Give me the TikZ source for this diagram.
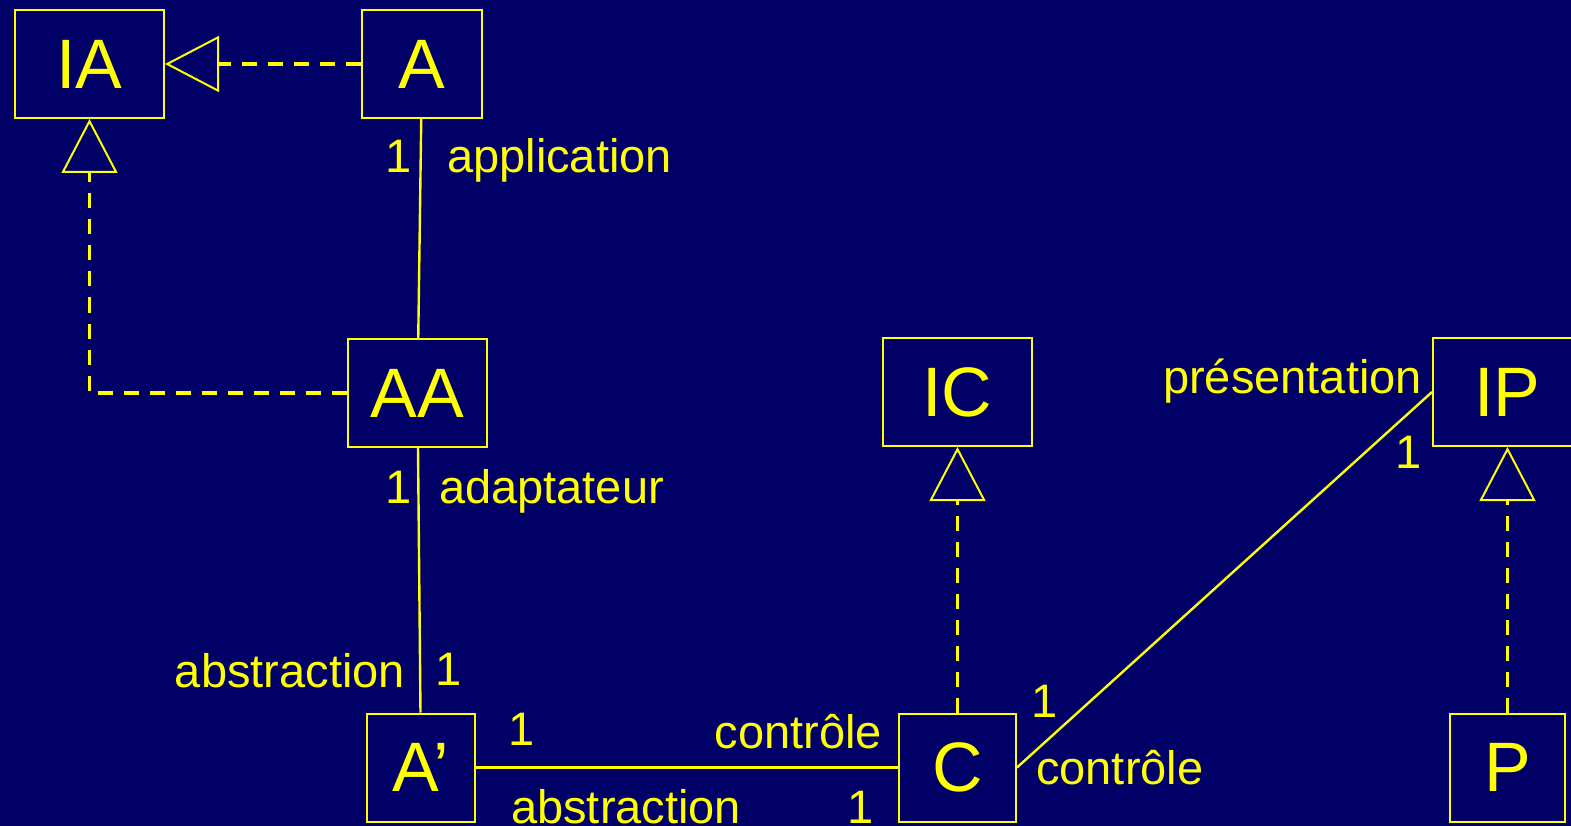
\documentclass[tikz,border=0pt]{standalone}
\usepackage{fontspec}
\setmainfont{Liberation Sans}
\usetikzlibrary{arrows.meta}
\definecolor{bg}{RGB}{0,0,102}
\definecolor{fg}{RGB}{255,255,0}
\begin{document}
\begin{tikzpicture}[x=1pt,y=-1pt,
  box/.style={draw=fg, line width=2pt, minimum height=108pt, inner sep=0pt, text=fg, font=\fontsize{70}{70}\selectfont},
  lbl/.style={text=fg, inner sep=0pt, font=\fontsize{47}{47}\selectfont},
  conn/.style={draw=fg, line width=2.4pt},
  real/.style={draw=fg, line width=3.3pt, dash pattern=on 15pt off 11pt, -{Triangle[open, length=54pt, width=56pt, line width=2pt]}}]
\fill[bg] (0,0) rectangle (1571,826);
\useasboundingbox (0,0) rectangle (1571,826);
\clip (0,0) rectangle (1571,826);
% classes
\node[box, minimum width=149pt] (IA) at (89.5,64) {IA};
\node[box, minimum width=120pt] (A) at (422,64) {A};
\node[box, minimum width=139pt] (AA) at (417.5,393) {AA};
\node[box, minimum width=149pt] (IC) at (957.5,392) {IC};
\node[box, minimum width=149pt] (IP) at (1507.5,392) {IP};
\node[box, minimum width=108pt] (Ap) at (421,767.5) {A’};
\node[box, minimum width=117pt] (C) at (957.5,767.5) {C};
\node[box, minimum width=115pt] (P) at (1507.5,767.5) {P};
% associations
\draw[conn] (A) -- (AA);
\draw[conn] (AA) -- (Ap);
\draw[conn] (Ap) -- (C);
\draw[conn] (C.east) -- (IP.west);
% realizations
\draw[real] (A) -- (IA);
\draw[real] (AA.west) -- (IA.south |- AA.west) -- (IA.south);
\draw[real] (C) -- (IC);
\draw[real] (P) -- (IP);
% labels
\node[lbl, anchor=base west] (l1) at (385,173) {1};
\node[lbl, anchor=base west] (l2) at (447,173) {application};
\node[lbl, anchor=base west] (l3) at (385,503) {1};
\node[lbl, anchor=base west] (l4) at (439,503) {adaptateur};
\node[lbl, anchor=base east] (l5) at (405,687) {abstraction};
\node[lbl, anchor=base west] (l6) at (435,685) {1};
\node[lbl, anchor=base west] (l7) at (508,745) {1};
\node[lbl, anchor=base east] (l8) at (882,748) {contrôle};
\node[lbl, anchor=base west] (l9) at (511,823) {abstraction};
\node[lbl, anchor=base west] (l10) at (847,823) {1};
\node[lbl, anchor=base west] (l11) at (1031,717) {1};
\node[lbl, anchor=base west] (l12) at (1036,784) {contrôle};
\node[lbl, anchor=base east] (l13) at (1422,393) {présentation};
\node[lbl, anchor=base west] (l14) at (1395,468) {1};
\end{tikzpicture}
\end{document}
